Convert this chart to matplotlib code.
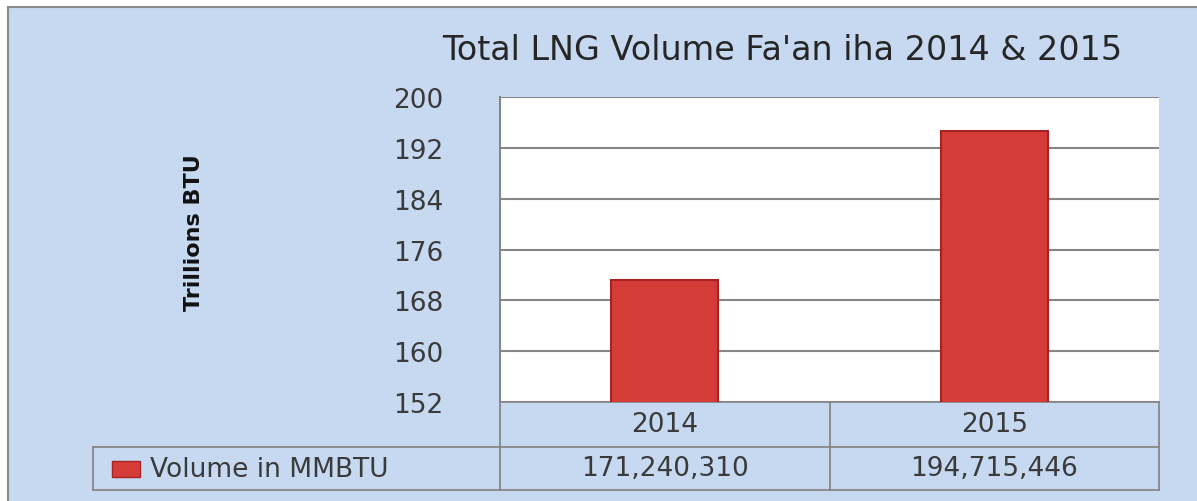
import matplotlib
matplotlib.use("Agg")
import matplotlib.pyplot as plt
from matplotlib.patches import Rectangle

# ---- data ----
categories = ["2014", "2015"]
volume_trillions = [171.24031, 194.715446]
table_values = ["171,240,310", "194,715,446"]
series_label = "Volume in MMBTU"
y_ticks = [152, 160, 168, 176, 184, 192, 200]
title = "Total LNG Volume Fa'an iha 2014 & 2015"
y_label = "Trillions BTU"

W, H = 1197, 502
fig = plt.figure(figsize=(W / 100, H / 100), dpi=100, facecolor="white")

def fx(px):
    return px / W

def fy(py):
    return 1 - py / H

BG = "#c6d9f0"
GRID = "#868686"
TXT = "#3a3a3a"
FS = 19

# outer chart frame
fig.patches.append(Rectangle((fx(8), fy(H + 20)), fx(W + 20 - 8), fy(8) - fy(H + 20),
                             transform=fig.transFigure, facecolor=BG,
                             edgecolor="#8a8a8a", linewidth=1.5, zorder=-10))

# plot area
L, R, T, B = 500, 1159, 98, 403
ax = fig.add_axes([fx(L), fy(B), fx(R) - fx(L), fy(T) - fy(B)])
ax.set_facecolor("white")
x = list(range(len(categories)))
ax.bar(x, volume_trillions, width=0.325, bottom=0, color="#d63c37",
       edgecolor="#a42323", linewidth=1.5, zorder=3)
ax.set_ylim(152, 200)
ax.set_xlim(-0.5, len(categories) - 0.5)
ax.set_yticks(y_ticks)
ax.set_yticklabels([str(t) for t in y_ticks], fontsize=FS, color=TXT,
                   family="DejaVu Sans")
ax.tick_params(axis="y", length=0, pad=41)
ax.set_xticks([])
ax.yaxis.grid(True, color=GRID, linewidth=1.5, zorder=1)
ax.set_axisbelow(True)
for side in ["top", "right", "bottom"]:
    ax.spines[side].set_visible(False)
ax.spines["left"].set_color(GRID)
ax.spines["left"].set_linewidth(1.5)

# data table below the axes (x in data coords, y in axes fraction)
trans = ax.get_xaxis_transform()
row1_bot = -(448 - B) / (B - T)
row2_bot = -(491 - B) / (B - T)
px_per_unit = (R - L) / len(categories)
table_left = -0.5 - (L - 93) / px_per_unit
lw = 1.3
ax.plot([-0.5, 1.5], [0, 0], transform=trans, color=GRID, lw=lw, clip_on=False)
ax.plot([table_left, 1.5], [row1_bot, row1_bot], transform=trans, color=GRID, lw=lw, clip_on=False)
ax.plot([table_left, 1.5], [row2_bot, row2_bot], transform=trans, color=GRID, lw=lw, clip_on=False)
ax.plot([-0.5, -0.5], [0, row2_bot], transform=trans, color=GRID, lw=lw, clip_on=False)
ax.plot([0.5, 0.5], [0, row2_bot], transform=trans, color=GRID, lw=lw, clip_on=False)
ax.plot([1.5, 1.5], [0, row2_bot], transform=trans, color=GRID, lw=lw, clip_on=False)
ax.plot([table_left, table_left], [row1_bot, row2_bot], transform=trans, color=GRID, lw=lw, clip_on=False)

for xi, cat, val in zip(x, categories, table_values):
    ax.text(xi, row1_bot / 2, cat, transform=trans, ha="center", va="center",
            fontsize=FS, color=TXT, family="DejaVu Sans")
    ax.text(xi, (row1_bot + row2_bot) / 2, val, transform=trans, ha="center",
            va="center", fontsize=FS, color=TXT, family="DejaVu Sans")

# legend key + series label
fig.patches.append(Rectangle((fx(112), fy(478)), fx(28), fy(462) - fy(478),
                             transform=fig.transFigure, facecolor="#d63c37",
                             edgecolor="#a42323", linewidth=1, zorder=5))
fig.text(fx(150), fy(470), series_label, ha="left", va="center", fontsize=FS,
         color=TXT, family="DejaVu Sans")

# title
fig.text(fx(442), fy(50), title, ha="left", va="center", fontsize=24,
         color="#262626", family="DejaVu Sans")

# y label
fig.text(fx(194), fy(233), y_label, rotation=90, ha="center", va="center",
         fontsize=16, fontweight="bold", color="#111111", family="DejaVu Sans")

fig.savefig("out.png", dpi=100, facecolor="white")
